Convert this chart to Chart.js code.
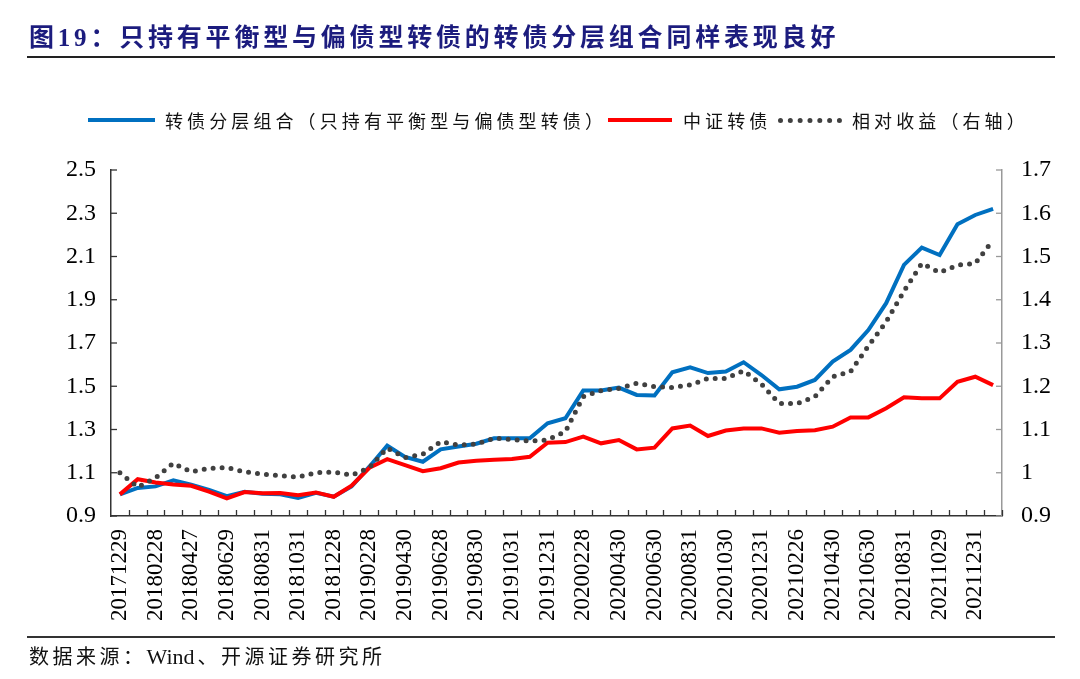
<!DOCTYPE html>
<html>
<head>
<meta charset="utf-8">
<script src="https://cdn.jsdelivr.net/npm/chart.js@4"></script>
<style>
  html, body { margin: 0; padding: 0; background: #fff; }
  #page { position: relative; width: 1080px; height: 679px; overflow: hidden;
          font-family: "Liberation Serif", "Noto Sans CJK SC", serif; }
  #wrap { position: absolute; left: 0; top: 0; width: 1080px; height: 679px; }
  .title { position: absolute; left: 29px; top: 23px; font-size: 25px; font-weight: bold;
           color: #1c1c7e; letter-spacing: 3.8px; white-space: nowrap; line-height: 30px;
           font-family: "Liberation Serif", "Noto Sans CJK SC", serif; }
  .rule { position: absolute; left: 27px; width: 1028px; background: #222; }
  .lg { position: absolute; top: 108px; font-size: 18px; line-height: 24px; color: #111;
        letter-spacing: 4.1px; white-space: nowrap; font-family: "Noto Sans CJK SC", sans-serif; }
  .sw { position: absolute; height: 4px; top: 118px; }
  .dots { position: absolute; top: 118px; height: 0; border-top: 5px dotted #404040; }
  .src { position: absolute; left: 29px; top: 643px; font-size: 20px; line-height: 26px; color: #111;
         letter-spacing: 3.5px; white-space: nowrap; font-family: "Noto Sans CJK SC", sans-serif; }
  .src span { font-family: "Liberation Serif", serif; font-size: 22px; letter-spacing: 0; margin-right: 3px; }
</style>
</head>
<body>
<div id="page">
  <div id="wrap"><canvas id="chart"></canvas></div>
  <div class="title">图19：只持有平衡型与偏债型转债的转债分层组合同样表现良好</div>
  <div class="rule" style="top:56px;height:2px;"></div>

  <div class="sw" style="left:88px;width:67px;background:#0070C0;"></div>
  <div class="lg" style="left:165px;">转债分层组合（只持有平衡型与偏债型转债）</div>
  <div class="sw" style="left:608px;width:64px;background:#FF0000;"></div>
  <div class="lg" style="left:683px;">中证转债</div>
  <div class="dots" style="left:778px;width:64px;"></div>
  <div class="lg" style="left:852px;">相对收益（右轴）</div>

  <div class="rule" style="top:636px;height:1.5px;background:#333;"></div>
  <div class="src">数据来源：<span>Wind</span>、开源证券研究所</div>
</div>

<script>
// 月末交易日
const dates = [
  '20171229',
  '20180131', '20180228', '20180330', '20180427', '20180531', '20180629',
  '20180731', '20180831', '20180928', '20181031', '20181130', '20181228',
  '20190131', '20190228', '20190329', '20190430', '20190531', '20190628',
  '20190731', '20190830', '20190930', '20191031', '20191129', '20191231',
  '20200123', '20200228', '20200331', '20200430', '20200529', '20200630',
  '20200731', '20200831', '20200930', '20201030', '20201130', '20201231',
  '20210129', '20210226', '20210331', '20210430', '20210531', '20210630',
  '20210730', '20210831', '20210930', '20211029', '20211130', '20211231',
  '20220128'
];

// 转债分层组合（左轴）
const layered = [
  1.000, 1.030, 1.037, 1.065, 1.045, 1.021, 0.992, 1.012, 1.003, 1.000,
  0.984, 1.007, 0.989, 1.037, 1.128, 1.225, 1.173, 1.151, 1.208, 1.221,
  1.234, 1.259, 1.259, 1.259, 1.329, 1.352, 1.480, 1.480, 1.494, 1.460,
  1.457, 1.565, 1.587, 1.561, 1.568, 1.611, 1.552, 1.486, 1.498, 1.529,
  1.614, 1.668, 1.760, 1.884, 2.061, 2.141, 2.107, 2.249, 2.292, 2.320
];

// 中证转债（左轴）
const csiCB = [
  1.000, 1.070, 1.055, 1.046, 1.040, 1.013, 0.982, 1.011, 1.005, 1.006,
  0.996, 1.009, 0.989, 1.040, 1.123, 1.163, 1.135, 1.107, 1.121, 1.147,
  1.156, 1.160, 1.164, 1.174, 1.239, 1.242, 1.267, 1.236, 1.251, 1.208,
  1.216, 1.305, 1.318, 1.270, 1.295, 1.305, 1.305, 1.285, 1.293, 1.297,
  1.313, 1.356, 1.356, 1.398, 1.449, 1.444, 1.444, 1.521, 1.544, 1.505
];

// 相对收益（右轴）
const relative = [
  1.000, 0.967, 0.988, 1.022, 1.002, 1.010, 1.012, 1.002, 0.997, 0.993,
  0.990, 1.000, 1.002, 0.994, 1.012, 1.057, 1.035, 1.043, 1.072, 1.064,
  1.066, 1.080, 1.077, 1.073, 1.076, 1.095, 1.176, 1.190, 1.195, 1.207,
  1.199, 1.197, 1.203, 1.218, 1.218, 1.236, 1.205, 1.160, 1.160, 1.176,
  1.222, 1.234, 1.293, 1.349, 1.420, 1.484, 1.463, 1.480, 1.484, 1.538
];

const leftRange = [0.9, 2.5, 0.2];
const rightRange = [0.9, 1.7, 0.1];

const fmt = v => String(Number(v.toFixed(1)));

// 轴内侧短刻度
const innerTicks = {
  id: 'innerTicks',
  afterDraw(chart) {
    const { ctx } = chart;
    const { x, y, y1 } = chart.scales;
    const seg = (a, b, c, d) => { ctx.beginPath(); ctx.moveTo(a, b); ctx.lineTo(c, d); ctx.stroke(); };
    ctx.save();
    ctx.lineWidth = 1.3;
    ctx.strokeStyle = '#333';
    const n = dates.length, step = x.width / n;
    for (let i = 1; i <= n; i++) {
      const px = Math.round(x.left + step * i) + 0.5;
      seg(px, x.top, px, x.top - 6);
    }
    y.ticks.forEach((t, i) => {
      const py = y.getPixelForTick(i);
      seg(y.right, py, y.right + 6, py);
    });
    ctx.strokeStyle = '#999';
    y1.ticks.forEach((t, i) => {
      const py = y1.getPixelForTick(i);
      seg(y1.left, py, y1.left - 6, py);
    });
    ctx.restore();
  }
};

new Chart(document.getElementById('chart'), {
  type: 'line',
  data: {
    labels: dates,
    datasets: [
      { label: '转债分层组合（只持有平衡型与偏债型转债）', data: layered, yAxisID: 'y',
        borderColor: '#0070C0', borderWidth: 4, pointRadius: 0, tension: 0, order: 2 },
      { label: '中证转债', data: csiCB, yAxisID: 'y',
        borderColor: '#FF0000', borderWidth: 4, pointRadius: 0, tension: 0, order: 1 },
      { label: '相对收益（右轴）', data: relative, yAxisID: 'y1',
        borderColor: '#404040', borderWidth: 5, borderDash: [0, 9], borderCapStyle: 'round',
        pointRadius: 0, tension: 0, order: 0 }
    ]
  },
  options: {
    responsive: true,
    maintainAspectRatio: false,
    animation: false,
    layout: { padding: { top: 170, bottom: 43, left: 0, right: 0 } },
    plugins: { legend: { display: false }, tooltip: { enabled: false } },
    scales: {
      x: {
        offset: true,
        grid: { display: true, drawOnChartArea: false, drawTicks: false },
        border: { display: true, color: '#333', width: 1.5 },
        afterFit: s => { s.height = 120; },
        ticks: {
          autoSkip: false, minRotation: 90, maxRotation: 90, padding: 13,
          color: '#000', font: { family: 'Liberation Serif', size: 23 },
          callback: (v, i) => (i % 2 === 0 ? dates[i] : '')
        }
      },
      y: {
        position: 'left',
        min: leftRange[0], max: leftRange[1],
        grid: { display: true, drawOnChartArea: false, drawTicks: false },
        border: { display: true, color: '#333', width: 1.5 },
        afterFit: s => { s.width = 111; },
        ticks: {
          stepSize: leftRange[2], padding: 15, color: '#000',
          font: { family: 'Liberation Serif', size: 24 },
          callback: v => fmt(v)
        }
      },
      y1: {
        position: 'right',
        min: rightRange[0], max: rightRange[1],
        grid: { display: true, drawOnChartArea: false, drawTicks: false },
        border: { display: true, color: '#999', width: 1.5 },
        afterFit: s => { s.width = 78; },
        ticks: {
          stepSize: rightRange[2], padding: 19, color: '#000',
          font: { family: 'Liberation Serif', size: 24 },
          callback: v => fmt(v)
        }
      }
    }
  },
  plugins: [innerTicks]
});
</script>
</body>
</html>
